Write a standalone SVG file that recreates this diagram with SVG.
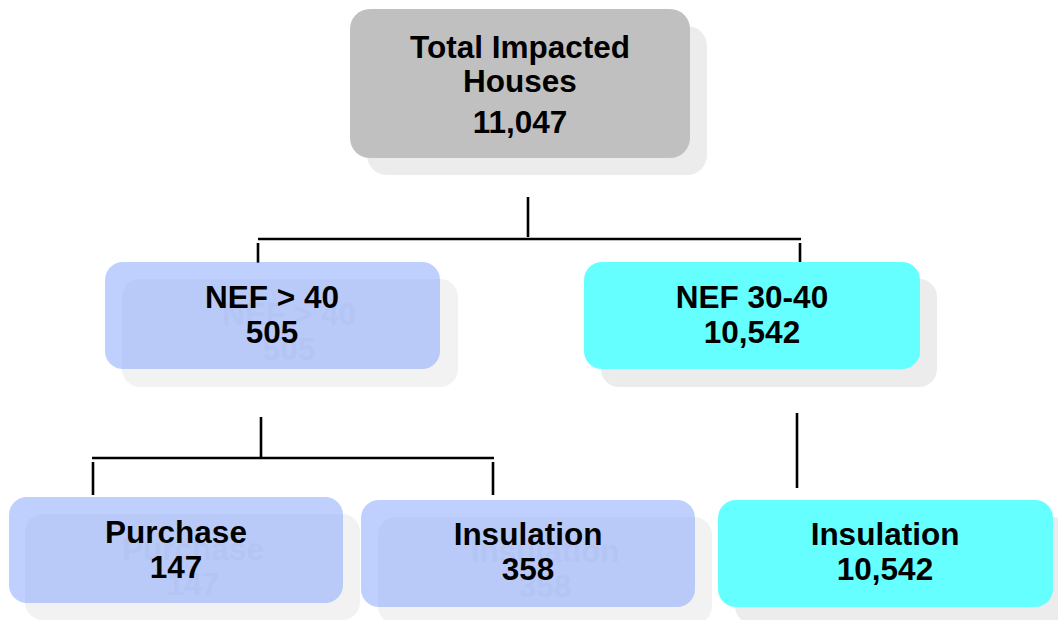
<svg xmlns="http://www.w3.org/2000/svg" width="1058" height="620" viewBox="0 0 1058 620">
<style>
.t{font-family:"Liberation Sans",Arial,sans-serif;font-weight:bold;font-size:31.5px;text-anchor:middle;fill:#000}
.g{font-family:"Liberation Sans",Arial,sans-serif;font-weight:bold;font-size:31.5px;text-anchor:middle;fill:#e9e9e9}
.sh{fill:#ececec}
.shb{fill:#f2f2f2}
.gray{fill:#c0c0c0}
.blue{fill:#7fa1ff;fill-opacity:0.5}
.cyan{fill:#66ffff}
.c line{stroke:#000;stroke-width:2.6}
</style>
<rect width="1058" height="620" fill="#fff"/>
<g class="c" id="connectors">
<line x1="528" y1="197" x2="528" y2="237"/>
<line x1="258" y1="239" x2="801" y2="239"/>
<line x1="258" y1="243" x2="258" y2="263"/>
<line x1="800" y1="243" x2="800" y2="263"/>
<line x1="261" y1="417" x2="261" y2="458"/>
<line x1="92" y1="458" x2="494" y2="458"/>
<line x1="93" y1="462" x2="93" y2="495"/>
<line x1="493" y1="462" x2="493" y2="495"/>
<line x1="797" y1="413" x2="797" y2="488"/>
</g>
<g id="total">
<rect class="sh" x="367" y="26" width="340" height="149" rx="20"/>
<rect class="gray" x="350" y="9" width="340" height="149" rx="20"/>
<text class="t" x="520" y="58">Total Impacted</text>
<text class="t" x="520" y="92">Houses</text>
<text class="t" x="520" y="133">11,047</text>
</g>
<g id="nef40">
<rect class="shb" x="122" y="279" width="336" height="108" rx="18"/>
<text class="g" x="289" y="325">NEF &gt; 40</text>
<text class="g" x="289" y="360">505</text>
<rect class="blue" x="105" y="262" width="335" height="107" rx="18"/>
<text class="t" x="272" y="308">NEF &gt; 40</text>
<text class="t" x="272" y="343">505</text>
</g>
<g id="nef3040">
<rect class="sh" x="601" y="279" width="336" height="108" rx="18"/>
<rect class="cyan" x="584" y="262" width="336" height="107" rx="18"/>
<text class="t" x="752" y="308">NEF 30-40</text>
<text class="t" x="752" y="343">10,542</text>
</g>
<g id="purchase">
<rect class="shb" x="25" y="514" width="335" height="106" rx="18"/>
<text class="g" x="193" y="560">Purchase</text>
<text class="g" x="193" y="595">147</text>
<rect class="blue" x="9" y="497" width="334" height="106" rx="18"/>
<text class="t" x="176" y="543">Purchase</text>
<text class="t" x="176" y="578">147</text>
</g>
<g id="insulation1">
<rect class="shb" x="378" y="517" width="334" height="107" rx="18"/>
<text class="g" x="545" y="562">Insulation</text>
<text class="g" x="545" y="597">358</text>
<rect class="blue" x="361" y="500" width="334" height="107" rx="18"/>
<text class="t" x="528" y="545">Insulation</text>
<text class="t" x="528" y="580">358</text>
</g>
<g id="insulation2">
<rect class="sh" x="735" y="517" width="335" height="107" rx="18"/>
<rect class="cyan" x="718" y="500" width="335" height="107" rx="18"/>
<text class="t" x="885" y="545">Insulation</text>
<text class="t" x="885" y="580">10,542</text>
</g>
</svg>
